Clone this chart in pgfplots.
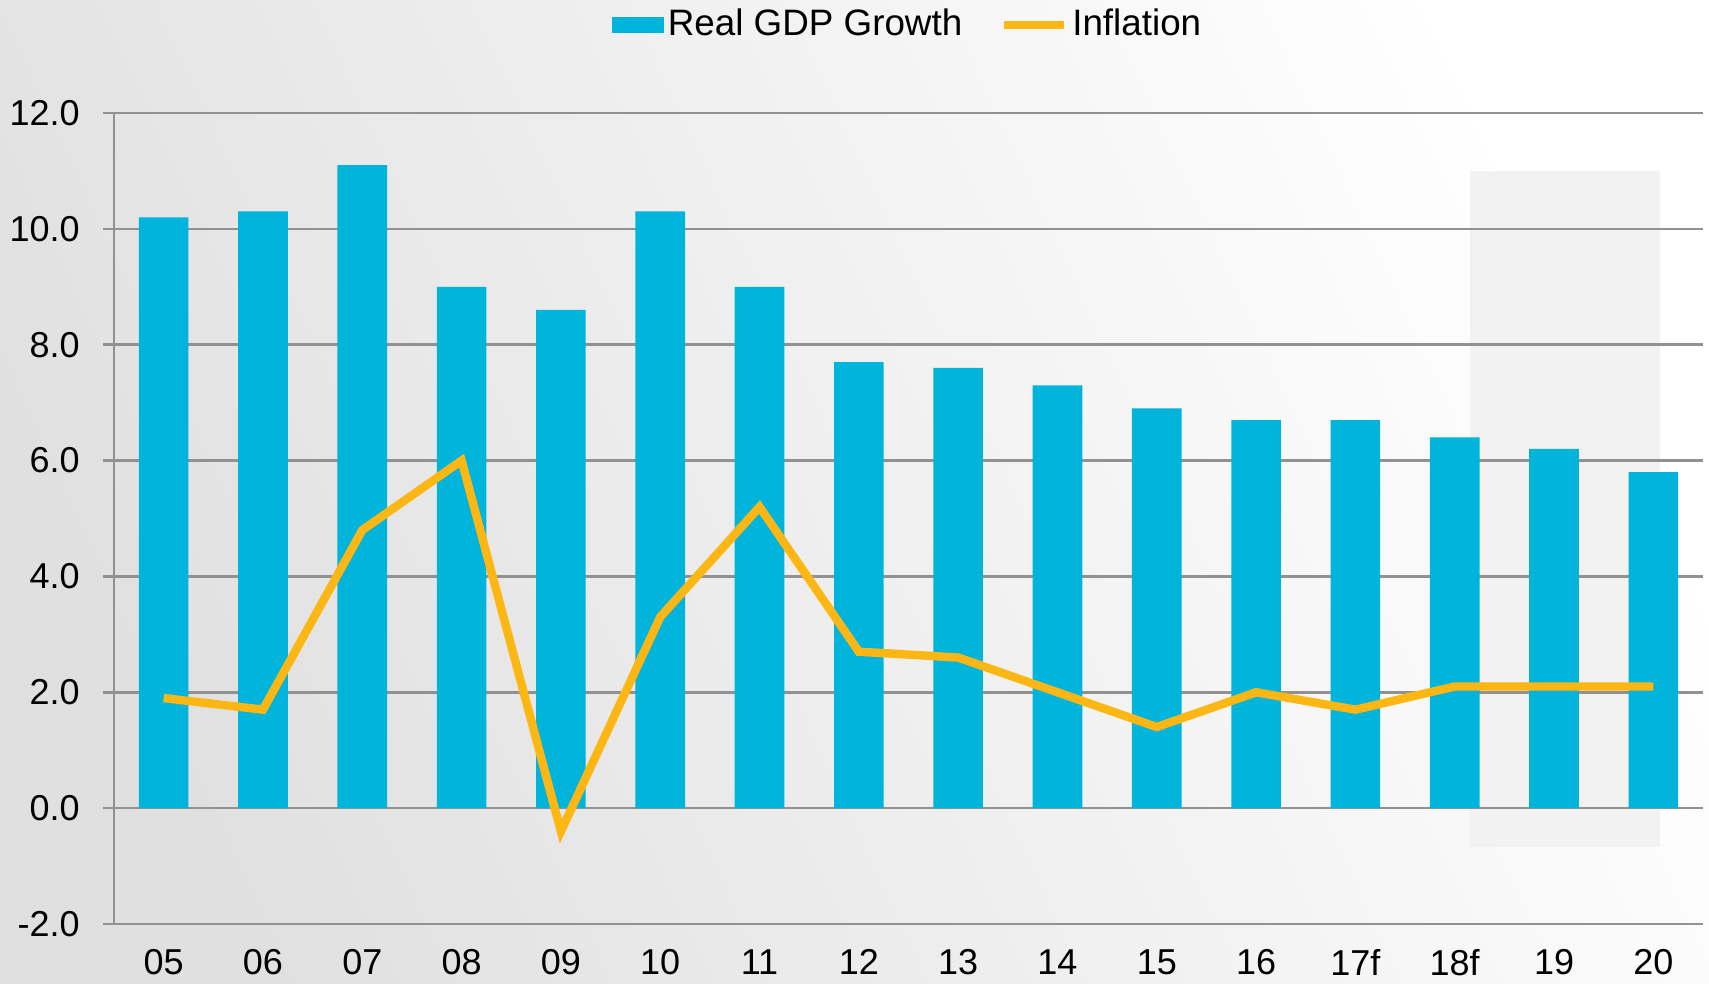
\documentclass[border=0pt]{standalone}
\usepackage{fontspec}
\setmainfont{Liberation Sans}
\usepackage{pgfplots}
\pgfplotsset{compat=1.18}
\definecolor{cBar}{RGB}{0,180,220}
\definecolor{cLine}{RGB}{253,183,20}
\definecolor{cGrid}{RGB}{145,145,145}
\definecolor{cFc}{RGB}{242,242,242}
\definecolor{bgA}{RGB}{224,224,224}
\definecolor{bgB}{RGB}{245,245,245}
\begin{document}
\fontsize{18}{21}\selectfont
\begin{tikzpicture}
\begin{axis}[
  set layers=standard,
  clip=false,
  scale only axis,
  width=794.5pt, height=405.5pt,
  xmin=-0.5, xmax=15.5,
  ymin=-2, ymax=12,
  ytick={-2,0,2,4,6,8,10,12},
  xtick={0,...,15},
  xticklabels={05,06,07,08,09,10,11,12,13,14,15,16,17f,18f,19,20},
  yticklabel style={/pgf/number format/fixed, /pgf/number format/fixed zerofill, /pgf/number format/precision=1, /pgf/number format/assume math mode=true, xshift=-5.5pt},
  xticklabel style={yshift=-1pt},
  ticklabel style={font=\fontsize{18}{21}\selectfont},
  tick align=outside,
  major tick length=5.5pt,
  xtick style={draw=none},
  ytick style={cGrid, line width=1.3pt},
  ymajorgrids,
  grid style={cGrid, line width=1.3pt},
  axis x line*=bottom,
  axis y line*=left,
  axis line style={cGrid, line width=1.3pt},
  legend columns=2,
  legend style={at={(0.5,1)}, anchor=center, yshift=44pt, draw=none, fill=none,
    font=\fontsize{18.4}{21}\selectfont,
    nodes={inner xsep=2pt},
    /tikz/every even column/.append style={column sep=17pt}},
]
\begin{pgfonlayer}{axis background}
\shade[left color=bgA, middle color=bgB, right color=white, shading angle=115]
  ([shift={(-57pt,-30pt)}]rel axis cs:0,0) rectangle ([shift={(3pt,56.5pt)}]rel axis cs:1,1);
\fill[cFc] (axis cs:13.15,-0.67) rectangle (axis cs:15.07,11.0);
\end{pgfonlayer}
\addplot[ybar, bar width=0.5, fill=cBar, draw=none,
  legend image code/.code={\fill[cBar] (0pt,-4.2pt) rectangle (26pt,4.2pt);}]
coordinates {
(0,10.2) (1,10.3) (2,11.1) (3,9.0) (4,8.6) (5,10.3) (6,9.0) (7,7.7)
(8,7.6) (9,7.3) (10,6.9) (11,6.7) (12,6.7) (13,6.4) (14,6.2) (15,5.8)
};
\addlegendentry{Real GDP Growth}
\addplot[cLine, line width=4.2pt, mark=none,
  legend image code/.code={\draw[cLine, line width=4pt] (0pt,0pt) -- (30pt,0pt);}]
coordinates {
(0,1.9) (1,1.7) (2,4.8) (3,6.0) (4,-0.4) (5,3.3) (6,5.2) (7,2.7)
(8,2.6) (9,2.0) (10,1.4) (11,2.0) (12,1.7) (13,2.1) (14,2.1) (15,2.1)
};
\addlegendentry{Inflation}
\end{axis}
\pgfresetboundingbox
\useasboundingbox (-57pt,-30pt) rectangle (797.5pt,462pt);
\end{tikzpicture}
\end{document}
